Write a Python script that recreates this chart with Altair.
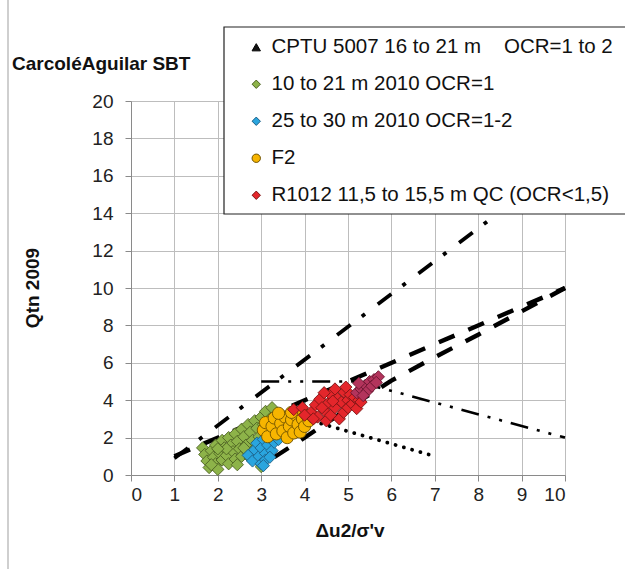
import altair as alt
import pandas as pd

FONT = "Liberation Sans"

# ---------------- data ----------------
series_names = [
    "CPTU 5007 16 to 21 m\u00a0\u00a0\u00a0 OCR=1 to 2",
    "10 to 21 m 2010 OCR=1",
    "25 to 30 m 2010 OCR=1-2",
    "F2",
    "R1012 11,5 to 15,5 m QC (OCR<1,5)",
]
fill_colors = ["#111111", "#8db349", "#2aa5de", "#f7b500", "#e4262b"]
edge_colors = ["#000000", "#4d6122", "#1d5f86", "#6f5200", "#7d1515"]
shapes = ["triangle-up", "diamond", "diamond", "circle", "diamond"]

cptu_x = [4.6, 4.8]
cptu_y = [4.1, 4.0]

green_x = [1.65, 1.7, 1.75, 1.8, 1.85, 1.9, 1.95, 1.95, 2.0, 2.05, 2.1, 2.1, 2.15, 2.2, 2.25,
           2.25, 2.3, 2.35, 2.4, 2.4, 2.45, 2.5, 2.55, 2.55, 2.6, 2.65, 2.7, 2.7, 2.75, 2.8,
           2.85, 2.85, 2.9, 2.9, 2.95, 3.0, 3.0, 3.05, 3.05, 3.1, 3.15, 3.2, 3.25, 3.3, 2.2,
           2.6, 2.0, 2.45, 2.75, 1.85]
green_y = [1.45, 1.1, 0.75, 0.4, 1.3, 0.95, 0.6, 1.6, 0.3, 1.15, 0.8, 1.85, 1.45, 1.05, 0.6,
           2.0, 1.6, 1.25, 0.85, 2.2, 1.8, 1.4, 1.0, 2.45, 2.05, 1.6, 1.2, 2.7, 2.3, 1.85,
           1.4, 2.9, 0.85, 2.5, 2.05, 0.45, 3.1, 1.7, 2.7, 3.4, 2.3, 3.0, 3.6, 2.6, 1.4,
           1.45, 1.4, 0.55, 0.9, 0.55]

blue_x = [2.7, 2.8, 2.85, 2.9, 2.95, 3.0, 3.0, 3.05, 3.1, 3.1, 3.15, 3.2, 3.25, 3.3, 3.35,
          3.2, 3.05, 3.4]
blue_y = [1.05, 0.75, 1.35, 1.7, 1.0, 0.6, 1.45, 1.9, 1.15, 0.8, 1.6, 2.05, 1.3, 1.75, 2.2,
          0.95, 0.5, 1.9]

f2_x = [3.05, 3.1, 3.15, 3.25, 3.3, 3.35, 3.45, 3.5, 3.55, 3.6, 3.65, 3.7, 3.75, 3.8, 3.85,
        3.9, 3.95, 4.0, 4.05, 4.1, 4.2, 3.4, 3.7]
f2_y = [2.4, 2.8, 2.05, 2.6, 3.05, 2.2, 2.75, 2.35, 3.1, 2.0, 2.6, 2.95, 2.25, 3.2, 2.7,
        2.3, 3.0, 2.6, 3.2, 2.9, 3.1, 3.3, 3.35]

r1012_x = [3.75, 3.95, 4.15, 4.25, 4.3, 4.35, 4.45, 4.5, 4.55, 4.6, 4.6, 4.7, 4.75, 4.8, 4.85,
           4.9, 4.9, 5.0, 5.0, 5.05, 5.1, 5.15, 5.2, 5.25, 4.4, 4.65, 4.95, 4.7, 4.45, 5.3,
           4.2, 4.0]
r1012_y = [3.5, 3.6, 3.35, 3.75, 3.1, 4.05, 3.45, 2.9, 3.85, 4.3, 3.2, 3.6, 4.1, 3.0, 3.9,
           4.45, 3.35, 4.0, 3.6, 4.3, 3.8, 4.15, 3.55, 4.0, 3.6, 3.95, 4.7, 4.6, 4.4, 3.9,
           3.0, 3.2]
# darker (maroon) part of the R1012 cloud
r1012_deep_x = [5.2, 5.3, 5.4, 5.5, 5.6, 5.45, 5.35, 5.55, 5.25, 5.7, 5.65]
r1012_deep_y = [4.4, 4.6, 4.8, 5.0, 5.1, 4.5, 4.25, 4.75, 4.9, 5.25, 4.95]

# reference lines
line_11_x = [1, 10]
line_11_y = [1, 10]
line_low_x = [3.3, 4.0, 5.0, 6.0, 7.0, 8.0, 9.0, 10.0]
line_low_y = [0.95, 2.0, 3.55, 5.05, 6.3, 7.5, 8.75, 10.0]
line_steep_x = [1, 10]
line_steep_y = [0.9, 16.7]
line_bend_x = [3.0, 5.2, 10.0]
line_bend_y = [5.0, 5.0, 2.0]
line_dot_x = [4.0, 7.0]
line_dot_y = [3.0, 1.0]

title_text = ["CarcoléAguilar SBT"]
x_title = ["Δu2/σ'v"]
y_title = ["Qtn 2009"]
x_ticks = list(range(0, 11))
y_ticks = list(range(0, 21, 2))

# ---------------- frames ----------------
rows = []
for name, xs, ys in [
    (series_names[0], cptu_x, cptu_y),
    (series_names[1], green_x, green_y),
    (series_names[2], blue_x, blue_y),
    (series_names[3], f2_x, f2_y),
    (series_names[4], r1012_x, r1012_y),
]:
    for a, b in zip(xs, ys):
        rows.append({"series": name, "x": a, "y": b})
pts = pd.DataFrame(rows)
deep = pd.DataFrame({"x": r1012_deep_x, "y": r1012_deep_y})

xscale = alt.Scale(domain=[0, 10], nice=False, zero=False)
yscale = alt.Scale(domain=[0, 20], nice=False, zero=False)
xaxis = alt.Axis(values=x_ticks, title=None, grid=True, tickSize=6, labelPadding=4)
yaxis = alt.Axis(values=y_ticks, title=None, grid=True, tickSize=6, labelPadding=12)


def X():
    return alt.X("x:Q", scale=xscale, axis=xaxis)


def Y():
    return alt.Y("y:Q", scale=yscale, axis=yaxis)


def ref_line(xs, ys, dash, width, cap="butt"):
    df = pd.DataFrame({"x": xs, "y": ys, "o": list(range(len(xs)))})
    return alt.Chart(df).mark_line(
        color="black", strokeWidth=width, strokeDash=dash, strokeCap=cap
    ).encode(x=X(), y=Y(), order="o:Q")


lines = [
    ref_line(line_11_x, line_11_y, [17, 15], 4.4),
    ref_line(line_low_x, line_low_y, [17, 15], 4.4),
    ref_line(line_steep_x, line_steep_y, [17, 14, 4, 16], 3.8),
    ref_line(line_bend_x, line_bend_y, [18, 9, 3, 9, 3, 9], 2.6),
    ref_line(line_dot_x, line_dot_y, [0.1, 8.5], 3.8, "round"),
]

leg = alt.Legend(
    title=None, orient="none", legendX=93, legendY=-74,
    labelFont=FONT, labelFontSize=20.5, labelColor="#111", labelLimit=600,
    symbolSize=70, symbolStrokeWidth=1, padding=10, rowPadding=16,
    symbolOffset=12, labelOffset=5,
)

points = alt.Chart(pts).mark_point(filled=True, opacity=1, size=150, strokeWidth=0.9).encode(
    x=X(), y=Y(),
    fill=alt.Fill("series:N", scale=alt.Scale(domain=series_names, range=fill_colors), legend=leg),
    stroke=alt.Stroke("series:N", scale=alt.Scale(domain=series_names, range=edge_colors), legend=leg),
    shape=alt.Shape("series:N", scale=alt.Scale(domain=series_names, range=shapes), legend=leg),
)

deep_pts = alt.Chart(deep).mark_point(
    filled=True, opacity=1, size=150, shape="diamond", fill="#b3345c", stroke="#6a1530", strokeWidth=0.9
).encode(x=X(), y=Y())

one = pd.DataFrame({"a": [0]})
legend_box = alt.Chart(one).mark_rect(fill="white", stroke="#222", strokeWidth=1.2).encode(
    x=alt.value(93), x2=alt.value(520), y=alt.value(-74), y2=alt.value(113)
)

left_edge = alt.Chart(one).mark_rule(color="#cfcfcf", strokeWidth=2).encode(
    x=alt.value(-123), y=alt.value(-101), y2=alt.value(468)
)

t_title = alt.Chart(pd.DataFrame({"t": title_text})).mark_text(
    font=FONT, fontSize=19, fontWeight="bold", align="left", baseline="alphabetic", color="#111"
).encode(text="t:N", x=alt.value(-119), y=alt.value(-31))

t_x = alt.Chart(pd.DataFrame({"t": x_title})).mark_text(
    font=FONT, fontSize=19, fontWeight="bold", align="center", baseline="middle", color="#111"
).encode(text="t:N", x=alt.value(219), y=alt.value(430))

t_y = alt.Chart(pd.DataFrame({"t": y_title})).mark_text(
    font=FONT, fontSize=19, fontWeight="bold", align="center", baseline="middle", angle=270, color="#111"
).encode(text="t:N", x=alt.value(-98), y=alt.value(187))

chart = alt.layer(
    *lines, points, deep_pts, legend_box, left_edge, t_title, t_x, t_y
).properties(
    width=434, height=374,
    padding={"left": 131, "top": 101, "right": 60, "bottom": 94},
    autosize="none", background="white",
).configure_view(stroke=None).configure_axis(
    gridColor="#bdbdbd", gridWidth=1, domainColor="#8a8a8a", tickColor="#8a8a8a",
    labelFont=FONT, labelFontSize=19, labelColor="#222",
)

chart.save("out.html", embed_options={"renderer": "svg", "actions": False})
